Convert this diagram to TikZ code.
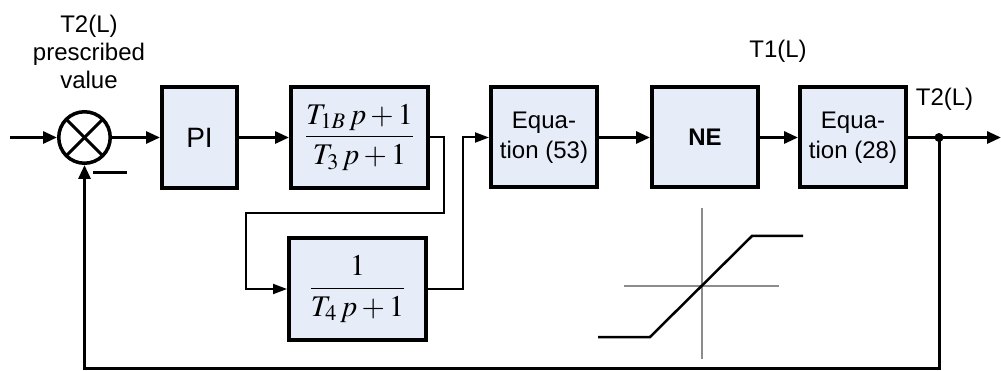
\documentclass[tikz,border=0pt]{standalone}
\usepackage{mathptmx}
\usepackage[no-math]{fontspec}
\setmainfont{Liberation Sans}
\usetikzlibrary{arrows.meta,positioning,calc}
\definecolor{BlockFill}{HTML}{E7EDF8}
\definecolor{AxisGray}{HTML}{8C8C8C}

\begin{document}
\begin{tikzpicture}[x=1pt, y=-1pt,
  block/.style={draw=black, fill=BlockFill, line width=4pt, minimum width=106pt,
    minimum height=100pt, align=center, inner sep=0pt, font=\fontsize{24}{30}\selectfont},
  sumjunc/.style={draw=black, circle, line width=3.5pt, minimum size=51.5pt, inner sep=0pt},
  signal/.style={-{Triangle[length=14pt,width=12pt]}, line width=3pt},
  branch/.style={-{Triangle[length=14pt,width=10pt]}, line width=2pt},
  sigtext/.style={font=\fontsize{24}{28}\selectfont, align=center, inner sep=0pt}
]
\useasboundingbox (0,0) rectangle (1001,371);

\node[sumjunc] (sum) at (84.5,137.5) {};
\draw[line width=3pt] (sum.center) ++(45:25) -- ++(225:50);
\draw[line width=3pt] (sum.center) ++(135:25) -- ++(315:50);

\node[block, minimum width=75pt, minimum height=101pt,
  font=\fontsize{28}{30}\selectfont] (pi) at (199.5,137.5) {PI};

\node[block, minimum width=137pt, minimum height=101pt,
  font=\fontsize{30}{36}\selectfont] (lead) at (359.5,137.5)
  {$\displaystyle\frac{T_{1B}\,p+1}{T_3\,p+1}$};

\node[block, minimum width=137pt, minimum height=102pt,
  font=\fontsize{30}{36}\selectfont] (lag) at (357.5,289)
  {$\displaystyle\frac{1}{T_4\,p+1}$};

\node[block] (eq53) at (544,137.5) {Equa-\\tion (53)};
\node[block, font=\bfseries\fontsize{24}{30}\selectfont] (ne) at (705,137.5) {NE};
\node[block] (eq28) at (853,137.5) {Equa-\\tion (28)};

\coordinate (in) at (10,137.5);
\coordinate (jn) at (939,137.5);
\coordinate (out) at (1001,137.5);

\draw[signal] (in) -- (sum);
\draw[signal] (sum) -- (pi);
\draw[signal] (pi) -- (lead);
\draw[branch] (lead.east) -- ++(14,0) -- ++(0,75.5) -| ($(lag.west)+(-41,0)$) -- (lag.west);
\draw[branch] (lag.east) -| ($(eq53.west)+(-26,0)$) -- (eq53.west);
\draw[signal] (eq53) -- (ne);
\draw[signal] (ne) -- (eq28);
\draw[line width=3pt] (eq28) -- (jn);
\draw[signal] (jn) -- (out);
\fill (jn) circle (4.5);
\draw[signal] (jn) -- ++(0,230.5) -| (sum.south);
\draw[line width=3pt] ($(sum.south)+(8.5,8)$) -- ++(34,0);

\node[sigtext] (ref) at (89,52) {T2(L)\\prescribed\\value};
\node[sigtext] (t1) at (778,51) {T1(L)};
\node[sigtext] (t2) at (944.5,99) {T2(L)};

\draw[AxisGray, line width=1.5pt] (702,208) -- (702,359);
\draw[AxisGray, line width=1.5pt] (624,286) -- (779,286);
\draw[line width=2.5pt] (598,337) -- (650,337) -- (752,236) -- (803,236);

\end{tikzpicture}
\end{document}
